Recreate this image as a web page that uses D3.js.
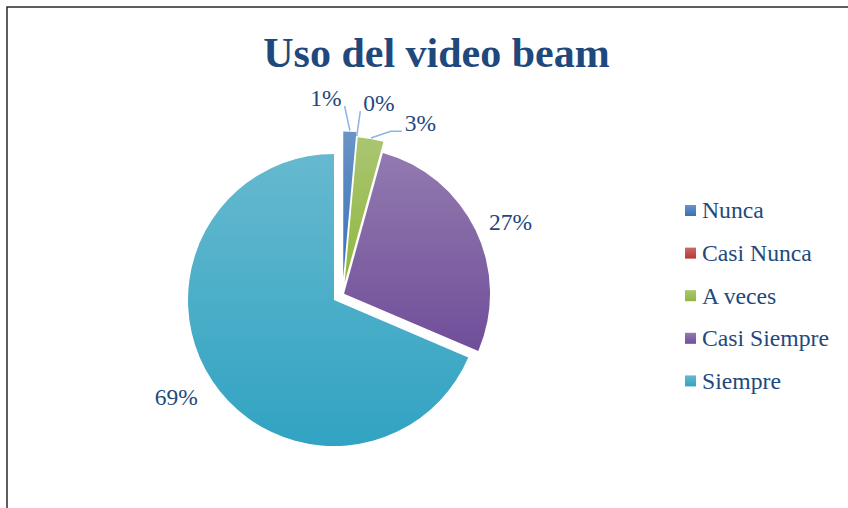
<!DOCTYPE html>
<html>
<head>
<meta charset="utf-8">
<script src="https://cdn.jsdelivr.net/npm/d3@7"></script>
<style>
  html, body { margin: 0; padding: 0; background: #fff; }
  svg { display: block; }
</style>
</head>
<body>
<svg id="chart" width="848" height="508"></svg>
<script>
// ---- data ----
const title = "Uso del video beam";
const categories = ["Nunca", "Casi Nunca", "A veces", "Casi Siempre", "Siempre"];
const values = [1, 0, 2, 19, 48];
const colors = ["#4F81BD", "#C0504D", "#9BBB59", "#8064A2", "#4BACC6"];

// ---- layout / style config ----
const W = 848, H = 508;
const cx = 342.5, cy = 294.4, R = 146;
const explode = [17, 12, 12, 1.7, 10.2];
const labelR = 183;
const labelNudge = [[-25.5, 3.4], [19, 3], [43.2, 20.8], [1.6, 7.7], [-5, -4]];
const leader = [true, true, true, false, false];
const leaderH = [0, 0, 11, 0, 0];
const textColor = "#1F497D";
const serif = "'Liberation Serif', 'Times New Roman', 'DejaVu Serif', serif";

const svg = d3.select("#chart");
const defs = svg.append("defs");

// gradients
colors.forEach((c, i) => {
  const g = defs.append("linearGradient").attr("id", "g" + i)
    .attr("x1", 0).attr("y1", 0).attr("x2", 0).attr("y2", 1);
  const top = d3.hsl(c); top.l = Math.min(1, top.l + 0.07);
  const bot = d3.hsl(c); bot.l = bot.l - 0.06; bot.s = Math.min(1, bot.s + 0.08);
  g.append("stop").attr("offset", "0%").attr("stop-color", top.formatHex());
  g.append("stop").attr("offset", "100%").attr("stop-color", bot.formatHex());
});

// border
svg.append("rect").attr("x", 7).attr("y", 7).attr("width", W + 20).attr("height", H + 20)
  .attr("fill", "none").attr("stroke", "#1a1a1a").attr("stroke-width", 1.4);

// title
svg.append("text").attr("x", 436.5).attr("y", 66.5).attr("text-anchor", "middle")
  .attr("font-family", serif).attr("font-weight", "bold").attr("font-size", 42)
  .attr("fill", textColor).text(title);

// pie
const total = d3.sum(values);
const pie = d3.pie().sort(null).value(d => d).startAngle(0).endAngle(2 * Math.PI);
const arcs = pie(values);
const arc = d3.arc().innerRadius(0).outerRadius(R);

const g = svg.append("g").attr("transform", `translate(${cx},${cy})`);

function offset(d, i, rr) {
  const m = (d.startAngle + d.endAngle) / 2;
  return [Math.sin(m) * rr, -Math.cos(m) * rr];
}

g.selectAll("path.slice").data(arcs).join("path")
  .attr("class", "slice")
  .attr("d", arc)
  .attr("transform", (d, i) => { const o = offset(d, i, explode[i]); return `translate(${o[0]},${o[1]})`; })
  .attr("fill", (d, i) => `url(#g${i})`);

// labels
const fmt = v => Math.round(v / total * 100) + "%";
const labelFont = 23.5;
arcs.forEach((d, i) => {
  const e = offset(d, i, explode[i]);
  const l = offset(d, i, labelR);
  const lx = e[0] + l[0] + labelNudge[i][0];
  const ly = e[1] + l[1] + labelNudge[i][1];
  const t = g.append("text").attr("x", lx).attr("y", ly + 8)
    .attr("text-anchor", "middle").attr("font-family", serif)
    .attr("font-size", labelFont).attr("fill", textColor).text(fmt(values[i]));
  if (leader[i]) {
    const w = t.node().getComputedTextLength();
    const p = offset(d, i, R + 1);
    const sx = e[0] + p[0], sy = e[1] + p[1];
    const side = sx > lx ? 1 : -1;
    const ax = lx + side * (w / 2 + 3), ay = ly + 8;
    const pts = [[ax, ay], [ax + side * leaderH[i], ay], [sx, sy]];
    g.insert("path", "text").attr("d", d3.line()(pts))
      .attr("fill", "none").attr("stroke", "#8DB4E2").attr("stroke-width", 1.5);
  }
});

// legend
const lg = svg.append("g");
const legY0 = 210.5, legStep = 42.6;
categories.forEach((c, i) => {
  const y = legY0 + i * legStep;
  lg.append("rect").attr("x", 685).attr("y", y - 5.5).attr("width", 11).attr("height", 11)
    .attr("fill", `url(#g${i})`);
  lg.append("text").attr("x", 702).attr("y", y + 7.8)
    .attr("font-family", serif).attr("font-size", 23.7).attr("fill", textColor).text(c);
});
</script>
</body>
</html>
